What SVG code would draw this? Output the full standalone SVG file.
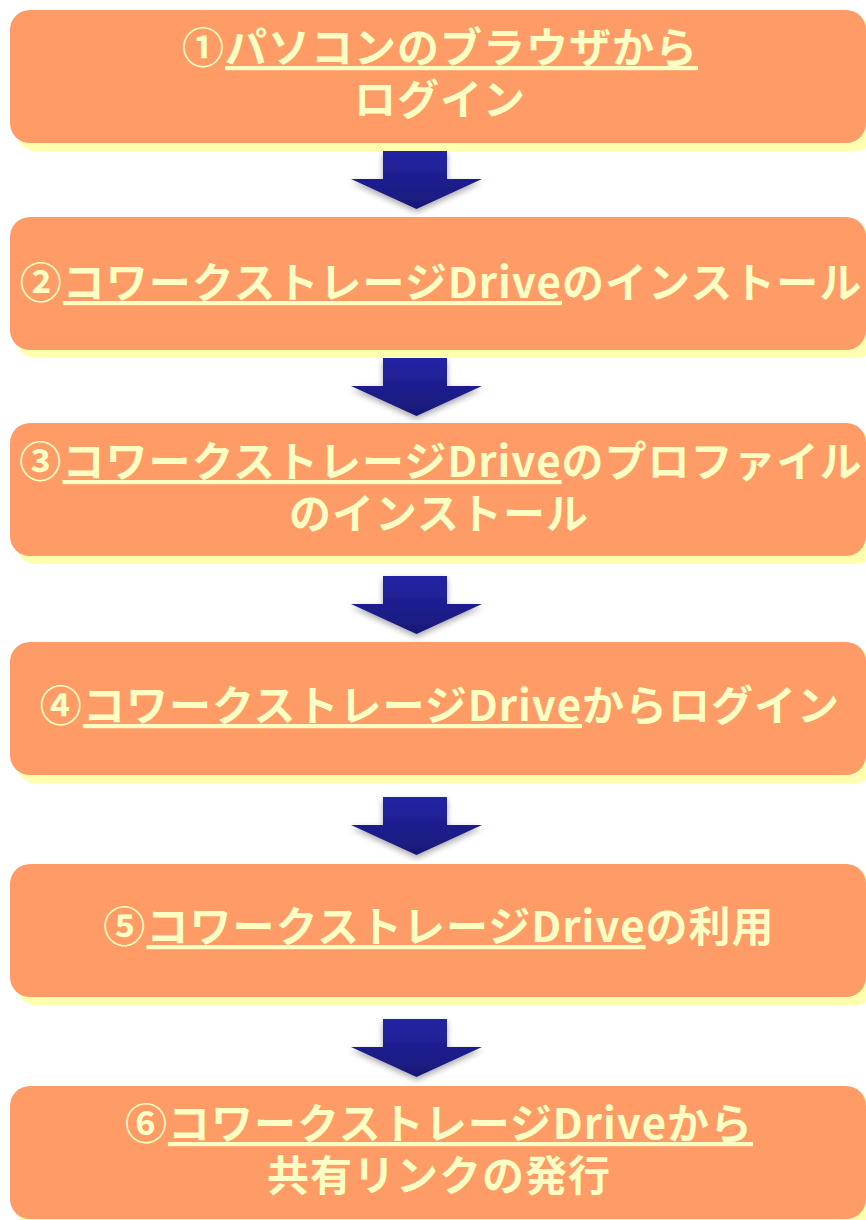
<svg xmlns="http://www.w3.org/2000/svg" xmlns:xlink="http://www.w3.org/1999/xlink" width="866" height="1220" viewBox="0 0 866 1220">
  <style>
    .box { fill: #FF9B67; }
    .shadow { fill: #FFFFB0; }
    .lbl { font-family: "Noto Sans CJK JP", "Noto Sans", sans-serif; font-weight: bold; font-size: 42px; letter-spacing: 1px; fill: #FFFFC4; text-anchor: middle; }
    .u { text-decoration: underline; }
    .arrow { fill: url(#arrowGrad); filter: url(#arrowShadow); }
  </style>
  <defs>
    <linearGradient id="arrowGrad" x1="0" y1="0" x2="0" y2="1">
      <stop offset="0" stop-color="#2424A6"/>
      <stop offset="1" stop-color="#181878"/>
    </linearGradient>
    <filter id="arrowShadow" x="-20%" y="-20%" width="140%" height="160%">
      <feDropShadow dx="0" dy="3" stdDeviation="3" flood-color="#000000" flood-opacity="0.35"/>
    </filter>
    <path id="arrowShape" d="M383,0 H447 V28 H482 L416.5,58 L351,28 H383 Z"/>
  </defs>

  <g id="connectors">
    <use xlink:href="#arrowShape" class="arrow" transform="translate(0,151)"/>
    <use xlink:href="#arrowShape" class="arrow" transform="translate(0,358)"/>
    <use xlink:href="#arrowShape" class="arrow" transform="translate(0,576)"/>
    <use xlink:href="#arrowShape" class="arrow" transform="translate(0,797)"/>
    <use xlink:href="#arrowShape" class="arrow" transform="translate(0,1019)"/>
  </g>

  <g id="step1">
    <rect class="shadow" x="16" y="18" width="860" height="133" rx="20"/>
    <rect class="box" x="10" y="10" width="856" height="133" rx="20"/>
    <text class="lbl"><tspan x="440" y="63">①<tspan class="u">パソコンのブラウザから</tspan></tspan><tspan x="440" y="115">ログイン</tspan></text>
  </g>

  <g id="step2">
    <rect class="shadow" x="16" y="225" width="860" height="133" rx="20"/>
    <rect class="box" x="10" y="217" width="856" height="133" rx="20"/>
    <text class="lbl" x="441" y="298">②<tspan class="u">コワークストレージDrive</tspan>のインストール</text>
  </g>

  <g id="step3">
    <rect class="shadow" x="16" y="431" width="860" height="133" rx="20"/>
    <rect class="box" x="10" y="423" width="856" height="133" rx="20"/>
    <text class="lbl"><tspan x="441" y="477">③<tspan class="u">コワークストレージDrive</tspan>のプロファイル</tspan><tspan x="439" y="529">のインストール</tspan></text>
  </g>

  <g id="step4">
    <rect class="shadow" x="16" y="650" width="860" height="133" rx="20"/>
    <rect class="box" x="10" y="642" width="856" height="133" rx="20"/>
    <text class="lbl" x="440" y="721">④<tspan class="u">コワークストレージDrive</tspan>からログイン</text>
  </g>

  <g id="step5">
    <rect class="shadow" x="16" y="872" width="860" height="133" rx="20"/>
    <rect class="box" x="10" y="864" width="856" height="133" rx="20"/>
    <text class="lbl" x="439" y="942">⑤<tspan class="u">コワークストレージDrive</tspan>の利用</text>
  </g>

  <g id="step6">
    <rect class="shadow" x="16" y="1094" width="860" height="133" rx="20"/>
    <rect class="box" x="10" y="1086" width="856" height="133" rx="20"/>
    <text class="lbl"><tspan x="439" y="1139">⑥<tspan class="u">コワークストレージDriveから</tspan></tspan><tspan x="439" y="1191">共有リンクの発行</tspan></text>
  </g>
</svg>
